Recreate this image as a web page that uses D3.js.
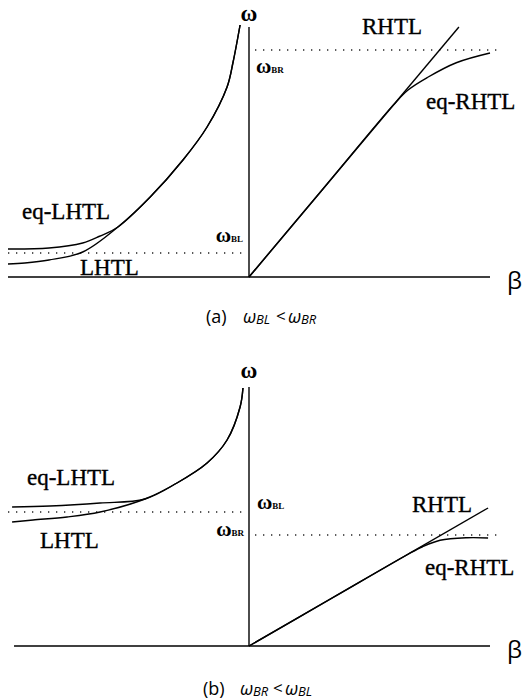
<!DOCTYPE html>
<html>
<head>
<meta charset="utf-8">
<script src="https://cdn.jsdelivr.net/npm/d3@7"></script>
<style>
  html, body { margin: 0; padding: 0; background: #fff; }
  svg { display: block; }
</style>
</head>
<body>
<script>
// Dispersion curves ω(β), in normalised units: β in [-1, 1], ω in [0, ~1]

// (a) ωBL < ωBR
const lhtlA = [[-1.0, 0.052], [-0.93, 0.056], [-0.83, 0.068], [-0.69, 0.10], [-0.544, 0.20],
               [-0.41, 0.32], [-0.274, 0.468], [-0.174, 0.60], [-0.091, 0.76], [-0.066, 0.86], [-0.037, 1.008]];
const eqLhtlA = [[-1.0, 0.112], [-0.83, 0.116], [-0.69, 0.136], [-0.62, 0.163], [-0.544, 0.20],
                 [-0.41, 0.32], [-0.274, 0.468], [-0.174, 0.60], [-0.091, 0.76], [-0.066, 0.86], [-0.037, 1.008]];
const rhtlA = [[0, 0], [0.871, 1.0]];
const eqRhtlA = [[0, 0], [0.3, 0.344], [0.6, 0.689], [0.66, 0.748], [0.74, 0.798], [0.86, 0.857], [1.0, 0.896]];
const omegaBLA = 0.096;
const omegaBRA = 0.908;

// (b) ωBR < ωBL
const lhtlB = [[-0.983, 0.496], [-0.896, 0.504], [-0.755, 0.516], [-0.618, 0.536], [-0.432, 0.588],
               [-0.299, 0.652], [-0.174, 0.732], [-0.091, 0.824], [-0.037, 0.956], [-0.025, 1.032]];
const eqLhtlB = [[-0.983, 0.556], [-0.826, 0.56], [-0.618, 0.572], [-0.432, 0.588],
                 [-0.299, 0.652], [-0.174, 0.732], [-0.091, 0.824], [-0.037, 0.956], [-0.025, 1.032]];
const rhtlB = [[0, 0], [0.992, 0.552]];
const eqRhtlB = [[0, 0], [0.35, 0.195], [0.66, 0.367], [0.72, 0.397], [0.793, 0.423], [0.905, 0.433], [0.992, 0.432]];
const omegaBLB = 0.536;
const omegaBRB = 0.444;

const curveNames = ["LHTL", "eq-LHTL", "RHTL", "eq-RHTL"];

const W = 524, H = 699;
const svg = d3.select("body").append("svg")
  .attr("width", W).attr("height", H)
  .attr("viewBox", `0 0 ${W} ${H}`);

const serif = "'Liberation Serif', 'Times New Roman', serif";
const sans = "'Open Sans', 'DejaVu Sans', sans-serif";

function panel(cfg) {
  const x = d3.scaleLinear().domain([-1, 1]).range([8, 490]);
  const y = d3.scaleLinear().domain([0, 1]).range([cfg.y0, cfg.y0 - 250]);
  const g = svg.append("g");
  const smooth = d3.line().x(d => x(d[0])).y(d => y(d[1])).curve(d3.curveCatmullRom.alpha(0.5));
  const straight = d3.line().x(d => x(d[0])).y(d => y(d[1]));

  // axes
  g.append("line")
    .attr("x1", x(cfg.axisLeft)).attr("x2", x(1))
    .attr("y1", y(0)).attr("y2", y(0))
    .attr("stroke", "#000").attr("stroke-width", 1.6);
  g.append("line")
    .attr("x1", x(0)).attr("x2", x(0))
    .attr("y1", y(0)).attr("y2", y(cfg.axisTop))
    .attr("stroke", "#000").attr("stroke-width", 1.4);

  // dotted cut-off levels
  const dotted = (x1, x2, w) => g.append("line")
    .attr("x1", x(x1)).attr("x2", x(x2))
    .attr("y1", y(w)).attr("y2", y(w))
    .attr("stroke", "#222").attr("stroke-width", 1.3)
    .attr("stroke-dasharray", "1.3,6.7");
  dotted(-1, -0.015, cfg.wBL);
  dotted(0.025, 1.03, cfg.wBR);

  // curves
  [cfg.lhtl, cfg.eqLhtl, cfg.rhtl, cfg.eqRhtl].forEach((c, i) => {
    g.append("path").datum(c)
      .attr("d", i === 2 ? straight(c) : smooth(c))
      .attr("fill", "none").attr("stroke", "#000").attr("stroke-width", 1.4);
  });

  // curve names
  cfg.labels.forEach((p, i) => {
    g.append("text")
      .attr("x", p[0]).attr("y", p[1])
      .attr("font-family", serif).attr("font-size", 23)
      .attr("stroke", "#000").attr("stroke-width", 0.35)
      .text(curveNames[i]);
  });

  // axis titles
  g.append("text").attr("x", x(0)).attr("y", cfg.omegaY)
    .attr("text-anchor", "middle")
    .attr("font-family", serif).attr("font-size", 23).attr("font-weight", "bold")
    .text("ω");
  g.append("text").attr("x", 507).attr("y", y(0) + 12)
    .attr("font-family", sans).attr("font-size", 24)
    .text("β");

  // cut-off frequency labels
  cfg.cutLabels.forEach(c => {
    const t = g.append("text").attr("x", c.x).attr("y", c.y)
      .attr("text-anchor", c.anchor)
      .attr("font-family", serif).attr("font-weight", "bold");
    t.append("tspan").attr("font-size", 21).text("ω");
    t.append("tspan").attr("font-size", 9).text(c.sub);
  });

  // caption
  const cap = cfg.caption;
  const ty = cap.y;
  g.append("text").attr("x", cap.x).attr("y", ty)
    .attr("font-family", sans).attr("font-size", 18).text(cap.tag);
  let cx = cap.x + 37;
  [cap.left, cap.right].forEach((sub, k) => {
    g.append("text").attr("x", cx).attr("y", ty)
      .attr("font-family", sans).attr("font-size", 18).attr("font-style", "italic")
      .text("ω");
    g.append("text").attr("x", cx + 13).attr("y", ty + 1)
      .attr("font-family", sans).attr("font-size", 13).attr("font-style", "italic")
      .text(sub);
    if (k === 0) {
      g.append("text").attr("x", cx + 33).attr("y", ty - 1)
        .attr("font-family", sans).attr("font-size", 17).text("<");
    }
    cx += 45;
  });
}

panel({
  y0: 277, axisLeft: -1, axisTop: 1.0,
  lhtl: lhtlA, eqLhtl: eqLhtlA, rhtl: rhtlA, eqRhtl: eqRhtlA,
  wBL: omegaBLA, wBR: omegaBRA,
  labels: [[80, 275], [22, 219], [362, 34], [426, 109]],
  omegaY: 21,
  cutLabels: [{ x: 243, y: 242, anchor: "end", sub: "BL" }, { x: 256, y: 73, anchor: "start", sub: "BR" }],
  caption: { x: 206, y: 323, tag: "(a)", left: "BL", right: "BR" }
});

panel({
  y0: 646, axisLeft: -0.975, axisTop: 1.036,
  lhtl: lhtlB, eqLhtl: eqLhtlB, rhtl: rhtlB, eqRhtl: eqRhtlB,
  wBL: omegaBLB, wBR: omegaBRB,
  labels: [[40, 548], [27, 485], [412, 512], [425, 575]],
  omegaY: 378,
  cutLabels: [{ x: 257, y: 509, anchor: "start", sub: "BL" }, { x: 244, y: 536, anchor: "end", sub: "BR" }],
  caption: { x: 203, y: 695, tag: "(b)", left: "BR", right: "BL" }
});
</script>
</body>
</html>
